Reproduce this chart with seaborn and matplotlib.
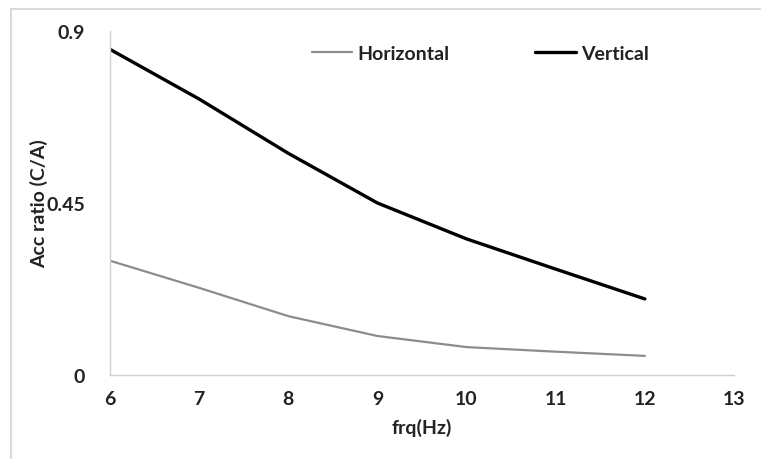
import matplotlib
matplotlib.use("Agg")
import matplotlib.pyplot as plt
import pandas as pd
import seaborn as sns
from matplotlib.patches import Rectangle

# values
freq = [6, 7, 8, 9, 10, 11, 12]
horizontal = [0.299, 0.228, 0.154, 0.102, 0.073, 0.061, 0.050]
vertical = [0.852, 0.722, 0.580, 0.450, 0.356, 0.277, 0.199]

df = pd.DataFrame({
    "freq": freq * 2,
    "ratio": horizontal + vertical,
    "series": ["Horizontal"] * len(freq) + ["Vertical"] * len(freq),
})

sns.set_style("white")
plt.rcParams["font.family"] = ["Lato", "DejaVu Sans"]
fs = 14

fig = plt.figure(figsize=(7.61, 4.6), dpi=100)
ax = fig.add_axes([110 / 761, 1 - 376 / 460, (734 - 110) / 761, (376 - 32) / 460])

sns.lineplot(data=df, x="freq", y="ratio", hue="series", size="series",
             palette={"Horizontal": "#8c8c8c", "Vertical": "#000000"},
             sizes={"Horizontal": 1.6, "Vertical": 2.4}, ax=ax)

ax.set_xlim(6, 13)
ax.set_ylim(0, 0.9)
ax.set_xticks(range(6, 14))
ax.set_yticks([0, 0.45, 0.9])
ax.set_yticklabels(["0", "0.45", "0.9"])
ax.tick_params(axis="both", length=0, labelsize=fs, colors="#222222")
ax.tick_params(axis="x", pad=11)
ax.tick_params(axis="y", pad=18)
for lab in ax.get_xticklabels() + ax.get_yticklabels():
    lab.set_fontweight("bold")

for side in ["top", "right"]:
    ax.spines[side].set_visible(False)
for side in ["left", "bottom"]:
    ax.spines[side].set_color("#d0d0d0")
    ax.spines[side].set_linewidth(1)

ax.set_xlabel("frq(Hz)", fontsize=fs, fontweight="bold", color="#222222", labelpad=8)
ax.set_ylabel("Acc ratio (C/A)", fontsize=fs, fontweight="bold", color="#222222", labelpad=-1)

handles, labels = ax.get_legend_handles_labels()
leg = ax.legend(handles, labels, loc="upper center", bbox_to_anchor=(0.593, 1.01),
                ncol=2, frameon=False, fontsize=fs, handlelength=2.1,
                handletextpad=0.25, columnspacing=4.4)
for t in leg.get_texts():
    t.set_fontweight("bold")
    t.set_color("#222222")

# chart area border, cropped on the right and bottom
fig.patches.append(Rectangle((11 / 761, -0.1), 1.2, 1 - 10 / 460 + 0.1,
                             transform=fig.transFigure, fill=False,
                             edgecolor="#d9d9d9", linewidth=1.5))

fig.savefig("out.png", dpi=100)
